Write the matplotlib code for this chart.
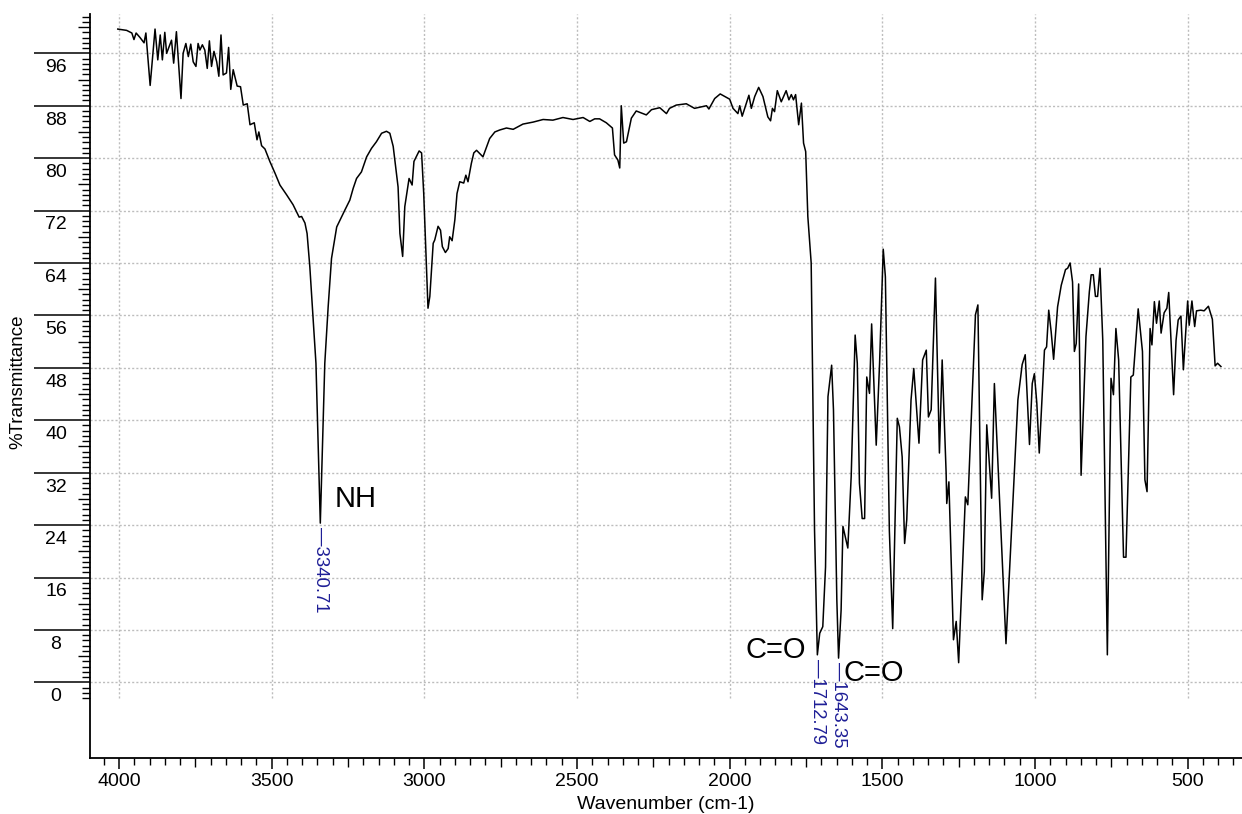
import numpy as np
import matplotlib
matplotlib.use("Agg")
import matplotlib.pyplot as plt
from matplotlib import transforms

plt.rcParams["font.family"] = ["Liberation Sans", "DejaVu Sans"]

# IR spectrum, wavenumber (cm-1) vs %T
wavenumber = [
    4004, 3975, 3958, 3951, 3944, 3931, 3918, 3912, 3898, 3882, 3873, 3865, 3858, 3850,
    3844, 3828, 3821, 3812, 3797, 3790, 3781, 3773, 3765, 3757, 3748, 3741, 3735, 3727,
    3719, 3711, 3704, 3697, 3689, 3680, 3673, 3666, 3659, 3648, 3641, 3634, 3626, 3613,
    3602, 3593, 3580, 3571, 3557, 3548, 3542, 3533, 3522, 3506, 3489, 3473, 3451, 3430,
    3410, 3402, 3391, 3384, 3375, 3368, 3364, 3355, 3340.71, 3326, 3315, 3304, 3287, 3260,
    3244, 3233, 3222, 3206, 3189, 3173, 3157, 3140, 3124, 3113, 3102, 3086, 3080, 3071,
    3064, 3050, 3040, 3034, 3017, 3009, 3002, 2993, 2988, 2982, 2971, 2966, 2955, 2947,
    2941, 2931, 2922, 2917, 2909, 2900, 2893, 2884, 2871, 2864, 2857, 2846, 2838, 2829,
    2808, 2786, 2769, 2753, 2731, 2709, 2677, 2644, 2611, 2579, 2546, 2513, 2480, 2458,
    2442, 2426, 2404, 2384, 2377, 2366, 2360, 2355, 2347, 2338, 2322, 2306, 2273, 2256,
    2229, 2207, 2197, 2175, 2142, 2115, 2076, 2068, 2049, 2031, 2000, 1989, 1973, 1967,
    1959, 1937, 1929, 1918, 1905, 1891, 1875, 1866, 1860, 1853, 1844, 1831, 1815, 1806,
    1798, 1791, 1784, 1774, 1765, 1758, 1751, 1744, 1733, 1722, 1712.79, 1705, 1695, 1686,
    1678, 1666, 1660, 1653, 1649, 1643.35, 1635, 1629, 1613, 1602, 1589, 1582, 1575, 1566,
    1558, 1551, 1542, 1535, 1520, 1509, 1497, 1490, 1477, 1466, 1451, 1444, 1435, 1427,
    1420, 1406, 1397, 1380, 1368, 1356, 1349, 1340, 1326, 1313, 1304, 1291, 1289, 1282,
    1267, 1258, 1250, 1228, 1220, 1195, 1187, 1173, 1166, 1158, 1142, 1133, 1095, 1056,
    1042, 1032, 1018, 1009, 1002, 994, 986, 969, 962, 955, 947, 939, 926, 914,
    900, 893, 885, 877, 871, 865, 857, 849, 833, 822, 816, 809, 802, 795,
    787, 778, 763, 751, 743, 735, 726, 710, 702, 686, 678, 662, 648, 640,
    633, 623, 617, 609, 602, 593, 587, 577, 568, 562, 546, 538, 531, 522,
    514, 500, 495, 486, 477, 471, 457, 446, 432, 419, 410, 402, 391,
]
transmittance = [
    99.7, 99.5, 99.1, 98.1, 99.1, 98.4, 97.6, 99.1, 91.1, 99.7, 95.0, 98.8, 95.0, 99.2,
    96.0, 98.0, 94.5, 99.3, 89.1, 96.0, 97.5, 95.5, 97.4, 94.7, 94.0, 97.5, 96.5, 97.3,
    96.5, 93.7, 97.9, 94.0, 96.3, 94.7, 92.5, 98.8, 92.7, 93.0, 96.9, 90.5, 93.5, 91.0,
    90.9, 88.1, 88.3, 85.1, 85.4, 82.8, 84.0, 81.9, 81.4, 79.5, 77.7, 75.9, 74.4, 72.9,
    71.0, 71.1, 70.1, 68.5, 63.4, 58.4, 55.3, 48.7, 24.3, 48.7, 57.3, 64.7, 69.5, 72.1,
    73.6, 75.4, 76.9, 77.9, 80.2, 81.5, 82.5, 83.8, 84.1, 83.8, 81.8, 75.6, 68.5, 65.0,
    72.6, 76.9, 75.9, 79.5, 81.1, 80.8, 74.6, 63.4, 57.1, 58.9, 67.0, 67.5, 69.6, 69.0,
    66.5, 65.6, 66.2, 68.0, 67.4, 70.6, 74.6, 76.4, 76.2, 77.4, 76.4, 79.2, 80.8, 81.2,
    80.2, 83.0, 84.0, 84.3, 84.6, 84.4, 85.2, 85.5, 85.9, 85.8, 86.2, 85.9, 86.2, 85.6,
    86.0, 86.0, 85.4, 84.6, 80.5, 79.7, 78.5, 88.0, 82.3, 82.5, 86.1, 87.2, 86.6, 87.4,
    87.7, 86.8, 87.6, 88.1, 88.3, 87.6, 88.0, 87.5, 89.1, 89.8, 89.0, 87.6, 86.8, 88.0,
    86.4, 89.6, 87.6, 89.4, 90.8, 89.4, 86.3, 85.7, 87.6, 87.1, 90.3, 88.6, 90.3, 88.9,
    89.7, 88.9, 89.7, 85.1, 88.4, 82.3, 81.0, 71.1, 64.0, 23.2, 4.2, 7.5, 8.5, 17.6,
    43.6, 48.4, 41.6, 23.2, 12.6, 3.7, 11.0, 23.8, 20.5, 31.4, 53.0, 48.7, 30.4, 25.0,
    25.0, 46.6, 44.1, 54.7, 36.2, 48.7, 66.1, 61.9, 23.2, 8.2, 40.3, 39.0, 34.4, 21.2,
    24.8, 43.1, 47.9, 36.5, 49.2, 50.7, 40.5, 41.6, 61.7, 35.0, 49.2, 31.9, 27.3, 30.6,
    6.5, 9.3, 3.0, 28.3, 27.1, 56.1, 57.6, 12.6, 16.9, 39.3, 28.1, 45.6, 5.9, 43.1,
    48.5, 50.0, 36.3, 45.6, 47.1, 42.6, 35.0, 50.7, 51.2, 56.8, 53.5, 49.3, 57.3, 60.6,
    63.0, 63.2, 64.0, 61.1, 50.5, 51.7, 60.8, 31.6, 52.8, 59.6, 62.2, 62.2, 58.9, 58.9,
    63.2, 52.2, 4.2, 46.4, 43.9, 54.0, 49.2, 19.1, 19.1, 46.6, 46.9, 57.0, 50.5, 30.9,
    29.1, 54.0, 51.5, 58.1, 54.8, 58.2, 53.3, 56.4, 57.1, 59.5, 43.9, 52.2, 55.3, 55.9,
    47.7, 58.2, 54.5, 58.2, 54.3, 56.7, 56.8, 56.7, 57.4, 55.4, 48.3, 48.7, 48.2,
]

# picked peaks and band assignments
peak_wn = [3340.71, 1712.79, 1643.35]
peak_t = [24.3, 4.2, 3.7]
band_text = ["NH", "C=O", "C=O"]
band_wn = [3293, 1751, 1626]
band_t = [28.0, 4.9, 1.4]
band_ha = ["left", "right", "left"]

x_major = np.arange(4000, 499, -500)
y_major = np.arange(0, 97, 8)

fig = plt.figure(figsize=(12.42, 8.14), dpi=100)
ax = fig.add_axes([90 / 1242, 56.3 / 814, 1 - 90 / 1242, 743.7 / 814])

ax.plot(wavenumber, transmittance, color="black", lw=1.1, zorder=3)

ax.set_xlim(4095, 322)
ax.set_ylim(-11.5, 102)

for side in ("top", "right"):
    ax.spines[side].set_visible(False)
for side in ("left", "bottom"):
    ax.spines[side].set_linewidth(1.3)

# grid: dotted, verticals stop just below 0 %T
dots = (0, (1.5, 1.5))
ax.vlines(x_major, -2.4, 102, colors="#bdbdbd", linestyles=dots, lw=1, zorder=1)
ax.hlines(y_major, 4095, 322, colors="#bdbdbd", linestyles=dots, lw=1, zorder=1)

# x ticks: 500 major, 250 medium, 50 minor
ax.set_xticks(x_major)
ax.set_xticks(np.arange(4050, 340, -50), minor=True)
ax.tick_params(axis="x", which="major", length=8.2, width=1.1, labelsize=14, pad=3)
ax.tick_params(axis="x", which="minor", length=4.8, width=1.0)
locs = ax.xaxis.get_minorticklocs()
for loc, tick in zip(locs, ax.xaxis.get_minor_ticks(len(locs))):
    if round(loc) % 250 == 0:
        tick.tick1line.set_markersize(6.6)

# y ticks: 8 major (long), 4 medium, 0.8 minor
ax.set_yticks(y_major)
ax.set_yticks(np.arange(-3, 128) * 0.8, minor=True)
ax.tick_params(axis="y", which="major", length=40.3, width=1.1, labelleft=False)
ax.tick_params(axis="y", which="minor", length=5.5, width=1.0)
locs = ax.yaxis.get_minorticklocs()
for loc, tick in zip(locs, ax.yaxis.get_minor_ticks(len(locs))):
    if round(loc / 0.8) % 5 == 0:
        tick.tick1line.set_markersize(8.6)

lab_tr = transforms.blended_transform_factory(ax.transAxes, ax.transData)
for v in y_major:
    ax.text(-0.0295, v - 2.2, str(v), transform=lab_tr, ha="center", va="center",
            fontsize=14)

ax.set_xlabel("Wavenumber (cm-1)", fontsize=14, labelpad=4)
fig.text(18.3 / 1242, 1 - 381.5 / 814, "%Transmittance", rotation=90,
         ha="center", va="center", fontsize=13.5)

# peak positions in blue under each picked minimum
for w, t in zip(peak_wn, peak_t):
    ax.annotate(f"\u2014{w:.2f}", xy=(w, t), xytext=(0, -3), textcoords="offset points",
                rotation=270, ha="center", va="top", fontsize=13.3, color="#1e1e96")

for s, w, t, ha in zip(band_text, band_wn, band_t, band_ha):
    ax.text(w, t, s, ha=ha, va="center", fontsize=21)

fig.savefig("out.png", dpi=100)
